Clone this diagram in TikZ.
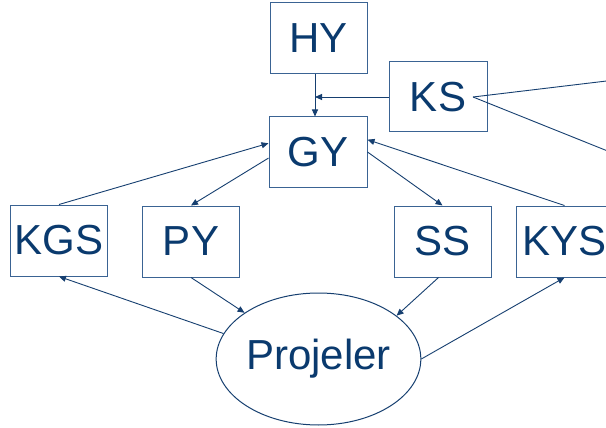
\documentclass[tikz,border=0pt]{standalone}
\usepackage{fontspec}
\setmainfont{Liberation Sans}
\usetikzlibrary{arrows.meta,shapes.geometric}
\definecolor{txtblue}{HTML}{0A3A6E}
\definecolor{boxblue}{HTML}{3A6393}
\definecolor{lineblue}{HTML}{163F70}
\tikzset{
  blk/.style={draw=boxblue, line width=1pt, fill=white, minimum width=97pt, minimum height=71pt,
    inner sep=0pt, text=txtblue, font=\fontsize{42}{50}\selectfont},
  ell/.style={ellipse, draw=lineblue, line width=1pt, minimum width=201pt, minimum height=132pt,
    inner sep=0pt, text=txtblue, font=\fontsize{42}{50}\selectfont},
  conn/.style={draw=lineblue, line width=0.9pt, -{Triangle[length=7pt,width=6pt]}},
  plain/.style={draw=lineblue, line width=0.9pt}
}
\begin{document}
\begin{tikzpicture}[x=1pt,y=-1pt]
\clip (0,0) rectangle (606,428);
\fill[white] (0,0) rectangle (606,428);
\node[blk] (HY) at (318.5,38) {HY};
\node[blk, minimum width=98pt, minimum height=70pt] (KS) at (438,97) {KS};
\node[blk, minimum width=98pt, minimum height=70pt] (GY) at (318,152) {GY};
\node[blk] (KGS) at (59,240.5) {KGS};
\node[blk] (PY) at (191,241.5) {PY};
\node[blk] (SS) at (442.5,241.5) {SS};
\node[blk] (KYS) at (564.5,241.5) {KYS};
\node[ell] (Proj) at (318.5,359) {Projeler};
\coordinate (ksa) at (640,77);
\coordinate (ksb) at (640,164);
% top
\draw[conn] ([xshift=-3.5pt]HY.south) -- ([xshift=-3pt]GY.north);
\draw[conn] (KS.west) -- ([xshift=-3.5pt]HY.south |- KS.west);
\draw[plain] ([xshift=35pt]KS.center) -- (ksa);
\draw[plain] ([xshift=35pt]KS.center) -- (ksb);
% middle
\draw[conn] (KGS.north) -- (GY.170);
\draw[conn] (GY.187) -- (PY.north);
\draw[conn] (GY.east) -- (SS.north);
\draw[conn] (KYS.north) -- (GY.14);
% bottom
\draw[conn] (Proj.165) -- (KGS.south);
\draw[conn] (PY.south) -- (Proj.148);
\draw[conn] ([xshift=-4pt]SS.south) -- (Proj.29);
\draw[conn] (Proj.east) -- (KYS.south);
\end{tikzpicture}
\end{document}
